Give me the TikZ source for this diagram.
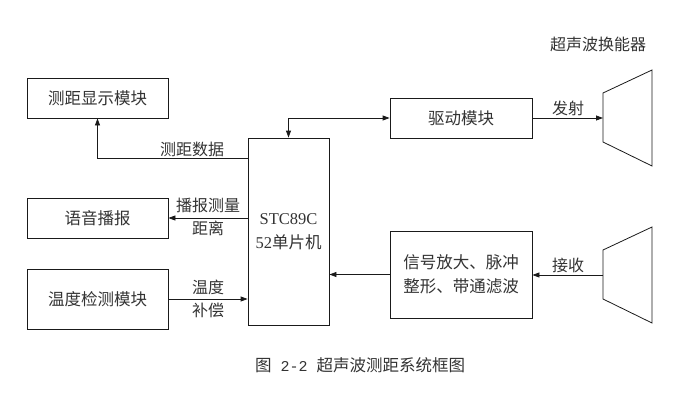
\documentclass[tikz,border=0pt]{standalone}
\usepackage{fontspec}
\setmainfont{Liberation Serif}
\setmonofont{Liberation Mono}
\newfontfamily\cjk{Noto Sans CJK SC}
\usepackage{tikz}
\usetikzlibrary{arrows.meta,positioning}
\definecolor{ink}{HTML}{1A1A1A}
\definecolor{txtgray}{HTML}{333333}
\tikzset{
  modbox/.style={draw=ink,fill=white,line width=0.8pt,
                 minimum width=141pt,minimum height=40pt,
                 align=center,font=\cjk\fontsize{16.5}{24}\selectfont,
                 text=txtgray,inner sep=0pt},
  linkarr/.style={-{Triangle[length=7pt,width=5pt]},line width=0.8pt,draw=ink},
  linklbl/.style={font=\cjk\fontsize{16}{22}\selectfont,text=txtgray,inner sep=1pt},
  xducer/.style={draw=ink,line width=0.8pt}
}

\begin{document}
\begin{tikzpicture}[x=1pt,y=-1pt]
  \useasboundingbox (0,0) rectangle (684,401);

  \node[modbox] (disp) at (97.5,98) {测距显示模块};
  \node[modbox] (voice) at (97.5,218) {语音播报};
  \node[modbox,minimum height=60pt] (temp) at (97.5,299) {温度检测模块};
  \node[modbox,minimum width=81pt,minimum height=187pt] (mcu) at (288.5,231.5)
    {{\normalfont STC89C}\\{\normalfont 52}单片机};
  \node[modbox,minimum width=142pt] (drive) at (461,118) {驱动模块};
  \node[modbox,minimum width=142pt,minimum height=87pt] (amp) at (461,274.5)
    {信号放大、脉冲\\整形、带通滤波};

  % ultrasonic transducers
  \node[linklbl] (xtitle) at (598,44) {超声波换能器};
  \coordinate (tx) at (603,118);
  \coordinate (rx) at (603,275);
  \draw[xducer] (tx) -- ++(0,-25) -- ++(49,-23) -- ++(0,96) -- ++(-49,-24) -- cycle;
  \draw[xducer] (rx) -- ++(0,-25) -- ++(49,-23) -- ++(0,96) -- ++(-49,-24) -- cycle;

  \coordinate (dataout) at (248,158);
  \draw[linkarr,{Triangle[length=7pt,width=5pt]}-{Triangle[length=7pt,width=5pt]}]
    (mcu.north) |- (drive.west);
  \draw[linkarr] (dataout) -| (disp.south);
  \draw[linkarr] (mcu.west |- voice.east) -- (voice.east);
  \draw[linkarr] (temp.east) -- (temp.east -| mcu.west);
  \draw[linkarr] (drive.east) -- (tx);
  \draw[linkarr] (rx) -- (rx -| amp.east);
  \draw[linkarr] (amp.west) -- (amp.west -| mcu.east);

  \node[linklbl] (datalbl) at (192,149) {测距数据};
  \node[linklbl] (voicelbl) at (208,205) {播报测量};
  \node[linklbl] (distlbl) at (208,228) {距离};
  \node[linklbl] (templbl) at (208,287) {温度};
  \node[linklbl] (complbl) at (208,310) {补偿};
  \node[linklbl] (firelbl) at (568,108) {发射};
  \node[linklbl] (recvlbl) at (568,265) {接收};

  \node[linklbl,font=\cjk\fontsize{16.5}{20}\selectfont] (caption) at (360,365)
    {图{\ttfamily\fontsize{15}{20}\selectfont\ 2-2\ }超声波测距系统框图};
\end{tikzpicture}
\end{document}
